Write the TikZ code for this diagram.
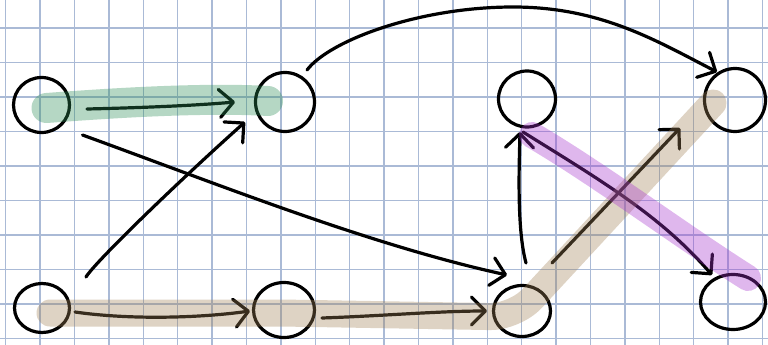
\documentclass[tikz,border=0pt]{standalone}
\usetikzlibrary{shapes.geometric,arrows.meta,calc}
\definecolor{gridc}{RGB}{170,186,214}
\definecolor{hlgreen}{RGB}{44,141,86}
\definecolor{hltan}{RGB}{161,129,86}
\definecolor{hlpurple}{RGB}{166,49,206}
\tikzset{
  vtx/.style={ellipse, draw=black, line width=3.2pt, inner sep=0pt, outer sep=0pt},
  edge/.style={line width=3.2pt, line cap=round,
    -{Straight Barb[length=14pt,width=28pt,line width=3.2pt,round]}},
  hl/.style={line width=28pt, line cap=round, line join=round, opacity=0.35},
  gridline/.style={gridc, line width=1.4pt}
}
\begin{document}
\begin{tikzpicture}[x=1pt,y=-1pt]
\useasboundingbox (0,0) rectangle (768,345);
\fill[white] (0,0) rectangle (768,345);
% grid paper
\foreach \i in {0,...,22} \draw[gridline] ({5.7+34.4*\i},0) -- ++(0,345);
\foreach \j in {0,...,10} \draw[gridline] (0,{-6.5+34.5*\j}) -- ++(768,0);
% vertices
\node[vtx, minimum width=56pt, minimum height=55pt] (A) at (41.5,105) {};
\node[vtx, minimum width=59pt, minimum height=59pt] (B) at (285,102) {};
\node[vtx, minimum width=57pt, minimum height=56pt] (C) at (527,99) {};
\node[vtx, minimum width=61pt, minimum height=63pt] (D) at (735,100) {};
\node[vtx, minimum width=55pt, minimum height=49pt] (E) at (42,308) {};
\node[vtx, minimum width=61pt, minimum height=55pt] (F) at (284,310) {};
\node[vtx, minimum width=57pt, minimum height=51pt] (G) at (522,311) {};
\node[vtx, minimum width=65pt, minimum height=55pt] (H) at (733,302) {};
% edges
\draw[edge] ($(A)+(45.5,4)$) .. controls (130,108) and (190,106) .. ($(B)+(-50,0)$);
\draw[edge] ($(A)+(41,30)$) .. controls (220,185) and (370,245) .. ($(G)+(-15,-36)$);
\draw[edge] ($(E)+(44,-31)$) .. controls (95,262) and (180,180) .. ($(B)+(-40,20)$);
\draw[edge] ($(B)+(22,-32)$) .. controls (330,40) and (420,7) .. (513,7)
   .. controls (600,7) and (655,40) .. ($(D)+(-18,-28)$);
\draw[edge] ($(E)+(33,4)$) .. controls (130,320) and (200,318) .. ($(F)+(-34,1)$);
\draw[edge] ($(F)+(38,8)$) .. controls (380,316) and (440,311) .. ($(G)+(-35,0)$);
\draw[edge] ($(G)+(4,-48)$) .. controls (517,230) and (519,170) .. ($(C)+(-7,33)$);
\draw[edge] ($(G)+(30,-48)$) -- ($(D)+(-55,28)$);
\draw[edge] ($(C)+(-4,33)$) .. controls (600,180) and (660,215) .. ($(H)+(-21,-27)$);
% highlights
\draw[hl, hlgreen, line width=30pt] ($(A)+(5,3)$) .. controls (100,104) and (200,97) .. ($(B)+(-17,-1)$);
\draw[hl, hltan, line width=27pt, rounded corners=25pt] ($(E)+(8,5)$) -- ($(F)+(0,3)$) -- ($(G)+(-7,6)$) -- ($(D)+(-22,3)$);
\draw[hl, hlpurple, line width=26pt] ($(C)+(5,36)$) .. controls (600,175) and (680,235) .. ($(H)+(15,-24)$);
\end{tikzpicture}
\end{document}
